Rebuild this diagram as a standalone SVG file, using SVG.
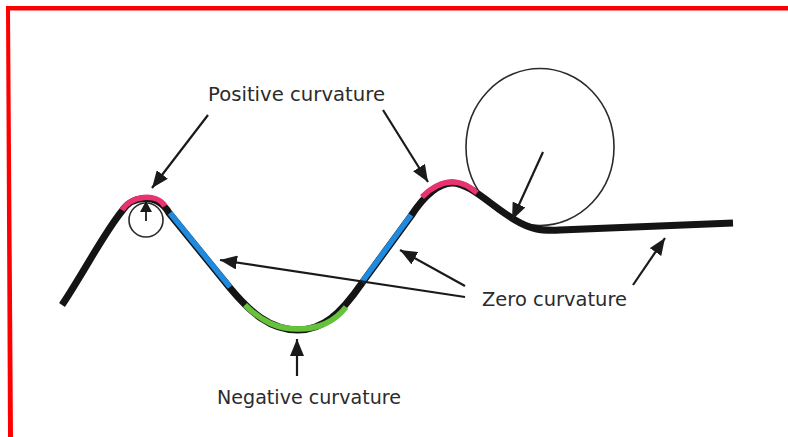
<svg xmlns="http://www.w3.org/2000/svg" width="788" height="437" viewBox="0 0 788 437">
<style>
.lbl{font-family:"DejaVu Sans","Liberation Sans",sans-serif;font-size:19.5px;fill:#2b2b2b}
.arr{stroke:#1a1a1a;stroke-width:2.2;fill:none;marker-end:url(#ah)}
.curve{fill:none;stroke:#141414;stroke-width:7;stroke-linecap:butt;stroke-linejoin:round}
.seg{fill:none;stroke-width:5.5;stroke-linecap:butt}
.ring{fill:none;stroke:#2a2a2a;stroke-width:1.6}
</style>
<defs>
<marker id="ah" markerUnits="userSpaceOnUse" markerWidth="18" markerHeight="14" refX="17" refY="7" orient="auto">
<path d="M0,0 L17,7 L0,14 z" fill="#1a1a1a"/>
</marker>
<marker id="ahs" markerUnits="userSpaceOnUse" markerWidth="12" markerHeight="12" refX="11" refY="6" orient="auto">
<path d="M0,0 L11,6 L0,12 z" fill="#1a1a1a"/>
</marker>
</defs>
<rect width="788" height="437" fill="#ffffff"/>
<polygon points="6,6 788,6 788,10.5 10,10.5 13,437 8,437" fill="#ff0000"/>

<g id="big-circle">
<ellipse class="ring" cx="540" cy="147" rx="74" ry="78.5"/>
</g>
<g id="small-circle">
<circle class="ring" cx="146" cy="220" r="17"/>
</g>

<g id="curve">
<path class="curve" d="M62,305 C84,272 104,233 122,211 C132,195 158,193 169,213 L230,288 C250,312 270,330 298,330 C322,330 340,315 362,283 L411,216 C425,194 440,183 452,183 C470,183 490,205 515,220 C530,229 540,231 560,230 L733,223"/>
<path class="seg" stroke="#e8336f" d="M122,210 C131,196 156,192 165,206"/>
<path class="seg" stroke="#1e8ae0" d="M170,213 L230,287"/>
<path class="seg" stroke="#66c23a" d="M245,305 C262,322 278,329 298,329 C320,329 336,320 346,307"/>
<path class="seg" stroke="#1e8ae0" d="M362,282 L411,215"/>
<path class="seg" stroke="#e8336f" d="M422,197 C432,187 442,182 452,182 C463,182 470,187 477,193"/>
</g>

<g id="connectors">
<line class="arr" x1="208" y1="115" x2="152" y2="188"/>
<line class="arr" x1="383" y1="110" x2="428" y2="182"/>
<line class="arr" x1="543" y1="152" x2="512" y2="220"/>
<line class="arr" x1="465" y1="297" x2="220" y2="260"/>
<line class="arr" x1="465" y1="286" x2="400" y2="250"/>
<line class="arr" x1="633" y1="285" x2="665" y2="238"/>
<line class="arr" x1="297" y1="376" x2="297" y2="339"/>
<line x1="146" y1="221" x2="146" y2="201" stroke="#1a1a1a" stroke-width="1.8" marker-end="url(#ahs)"/>
</g>

<g id="label-positive"><text class="lbl" x="208" y="101" textLength="177" lengthAdjust="spacingAndGlyphs">Positive curvature</text></g>
<g id="label-zero"><text class="lbl" x="482" y="306" textLength="145" lengthAdjust="spacingAndGlyphs">Zero curvature</text></g>
<g id="label-negative"><text class="lbl" x="217" y="404" textLength="184" lengthAdjust="spacingAndGlyphs">Negative curvature</text></g>
</svg>
